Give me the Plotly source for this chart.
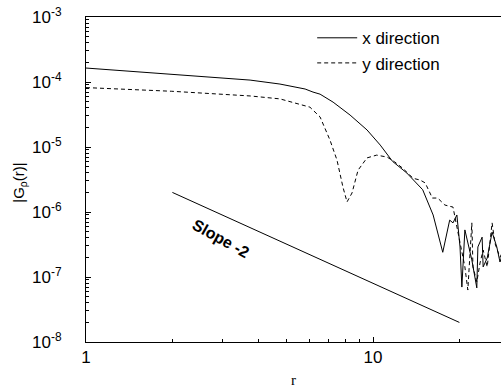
import plotly.graph_objects as go

# x direction (solid)
r_x = [1.00, 1.99, 3.73, 4.74, 5.80, 6.18, 6.54, 7.26, 8.32, 9.53, 10.6, 11.7, 13.1,
       14.9, 16.2, 17.5, 18.5, 19.0, 19.6, 20.1, 20.4, 20.9, 21.4, 22.1, 23.0, 23.2,
       24.0, 24.2, 25.0, 26.0, 27.0, 27.7, 28.2]
g_x = [1.64e-4, 1.33e-4, 1.07e-4, 9.3e-5, 7.8e-5, 7.0e-5, 6.5e-5, 4.9e-5, 3.1e-5, 1.83e-5,
       1.07e-5, 6.0e-6, 4.0e-6, 2.2e-6, 9.0e-7, 2.4e-7, 7.5e-7, 6.8e-7, 9.0e-7, 2.9e-7,
       7.0e-8, 5.3e-7, 3.3e-7, 1.83e-7, 6.8e-8, 2.9e-7, 4.1e-7, 1.43e-7, 1.96e-7, 4.9e-7,
       2.9e-7, 1.7e-7, 2.2e-7]

# y direction (dashed)
r_y = [1.00, 1.99, 3.73, 4.74, 6.03, 6.54, 7.08, 7.49, 7.86, 8.12, 8.45, 8.87, 9.53, 10.3,
       11.2, 11.9, 12.7, 13.8, 14.6, 15.2, 16.1, 16.8, 17.8, 19.0, 19.6, 20.4, 20.9, 21.4,
       22.1, 22.3, 23.0, 23.6, 24.2, 25.0, 26.0, 26.6, 27.7, 28.2]
g_y = [8.2e-5, 7.2e-5, 6.1e-5, 5.5e-5, 4.1e-5, 2.9e-5, 1.28e-5, 6.3e-6, 2.4e-6, 1.43e-6,
       1.96e-6, 4.4e-6, 6.8e-6, 7.5e-6, 7.0e-6, 5.9e-6, 4.7e-6, 3.3e-6, 3.1e-6, 2.8e-6,
       1.64e-6, 1.64e-6, 1.28e-6, 1.19e-6, 5.9e-7, 2.6e-7, 1.43e-7, 6.3e-8, 6.8e-7, 1.43e-7,
       8.4e-8, 1.64e-7, 2.6e-7, 1.43e-7, 6.8e-7, 3.3e-7, 2.0e-7, 2.4e-7]

# reference slope -2 line
slope_r = [2, 20]
slope_g = [2e-6, 2e-8]

x_major = [1, 10]
x_major_text = ["1", "10"]
x_minor = [2, 3, 4, 5, 6, 7, 8, 9, 20]

y_exps = [-8, -7, -6, -5, -4, -3]
y_major = [10.0 ** e for e in y_exps]
y_major_text = ["10<sup>%d</sup>" % e for e in y_exps]
y_minor = [k * 10.0 ** e for e in y_exps[:-1] for k in range(2, 10)]

FONT = "Liberation Sans, Arial, sans-serif"

fig = go.Figure()
fig.add_trace(go.Scatter(x=r_x, y=g_x, mode="lines", name="x direction",
                         line=dict(color="black", width=1)))
fig.add_trace(go.Scatter(x=r_y, y=g_y, mode="lines", name="y direction",
                         line=dict(color="black", width=1, dash="4px,3px")))
fig.add_trace(go.Scatter(x=slope_r, y=slope_g, mode="lines", showlegend=False,
                         line=dict(color="black", width=1)))

fig.add_annotation(x=0.47, y=-6.40, xref="x", yref="y", text="<b>Slope -2</b>",
                   showarrow=False, textangle=29,
                   font=dict(family=FONT, size=16, color="black"))

# y axis title as a rotated annotation
fig.add_annotation(x=-66 / 415, y=0.49, xref="paper", yref="paper",
                   text="|G<sub>ρ</sub>(r)|", showarrow=False, textangle=-90,
                   xanchor="center", yanchor="middle",
                   font=dict(family=FONT, size=15, color="black"))

fig.update_layout(
    width=501, height=391,
    margin=dict(l=86, r=0, t=17, b=49),
    paper_bgcolor="white", plot_bgcolor="white",
    font=dict(family=FONT, size=17, color="black"),
    showlegend=True,
    legend=dict(x=0.545, y=0.99, xanchor="left", yanchor="top",
                bgcolor="rgba(0,0,0,0)", font=dict(family=FONT, size=17),
                itemwidth=40, tracegroupgap=0),
    xaxis=dict(type="log", range=[0, 1.446], showgrid=False, zeroline=False,
               showline=True, linecolor="black", linewidth=1, mirror=True,
               ticks="inside", ticklen=5, tickcolor="black",
               tickmode="array", tickvals=x_major, ticktext=x_major_text,
               minor=dict(ticks="inside", ticklen=3, tickcolor="black", tickvals=x_minor),
               tickfont=dict(family=FONT, size=17),
               title=dict(text="r", font=dict(family="Liberation Serif, serif", size=15),
                          standoff=8)),
    yaxis=dict(type="log", range=[-8, -3], showgrid=False, zeroline=False,
               showline=True, linecolor="black", linewidth=1,
               ticks="inside", ticklen=5, tickcolor="black",
               tickmode="array", tickvals=y_major, ticktext=y_major_text,
               minor=dict(ticks="inside", ticklen=3, tickcolor="black", tickvals=y_minor),
               tickfont=dict(family=FONT, size=17),
               ticklabelstandoff=20),
)

fig.write_html("out.html")
